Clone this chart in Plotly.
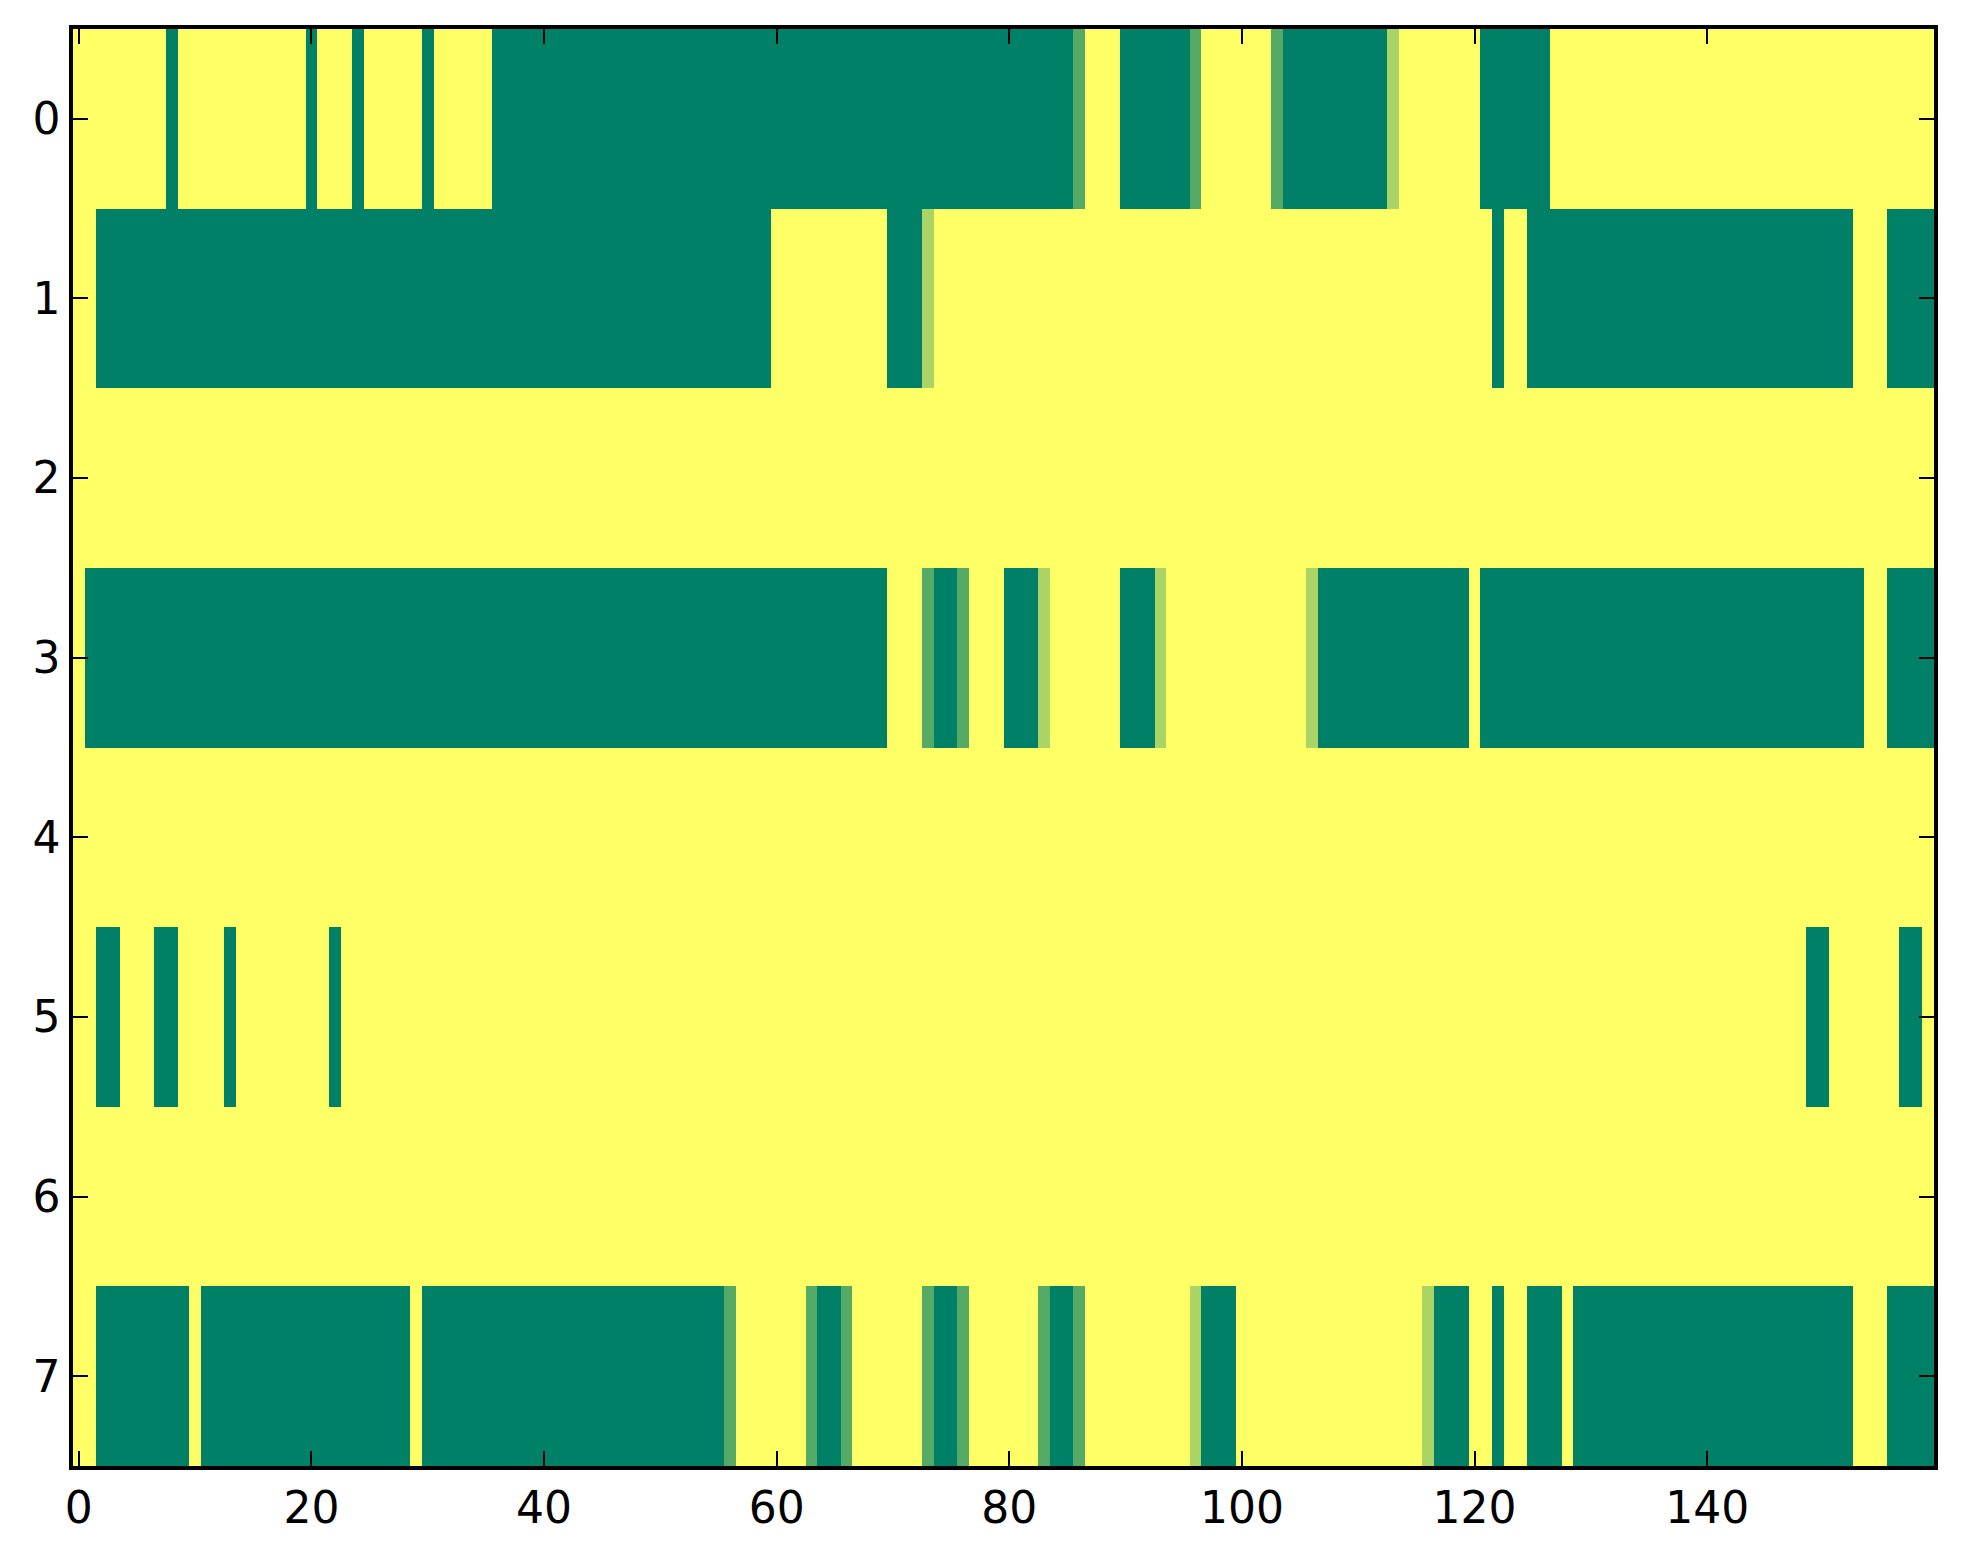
import plotly.graph_objects as go

# Each row: list of (level, run_length); level/3 is the cell value
# (0 = dark green, 3 = yellow, 1 and 2 = intermediate greens)
row0_runs = [(3, 8), (0, 1), (3, 11), (0, 1), (3, 3), (0, 1), (3, 5), (0, 1), (3, 5),
             (0, 50), (1, 1), (3, 3), (0, 6), (1, 1), (3, 6), (1, 1), (0, 9), (2, 1),
             (3, 7), (0, 6), (3, 33)]
row1_runs = [(3, 2), (0, 58), (3, 10), (0, 3), (2, 1), (3, 48), (0, 1), (3, 2), (0, 28),
             (3, 3), (0, 4)]
row2_runs = [(3, 160)]
row3_runs = [(3, 1), (0, 69), (3, 3), (1, 1), (0, 2), (1, 1), (3, 3), (0, 3), (2, 1),
             (3, 6), (0, 3), (2, 1), (3, 12), (2, 1), (0, 13), (3, 1), (0, 33), (3, 2),
             (0, 4)]
row4_runs = [(3, 160)]
row5_runs = [(3, 2), (0, 2), (3, 3), (0, 2), (3, 4), (0, 1), (3, 8), (0, 1), (3, 126),
             (0, 2), (3, 6), (0, 2), (3, 1)]
row6_runs = [(3, 160)]
row7_runs = [(3, 2), (0, 8), (3, 1), (0, 18), (3, 1), (0, 26), (1, 1), (3, 6), (1, 1),
             (0, 2), (1, 1), (3, 6), (1, 1), (0, 2), (1, 1), (3, 6), (1, 1), (0, 2),
             (1, 1), (3, 9), (2, 1), (0, 3), (3, 16), (2, 1), (0, 3), (3, 2), (0, 1),
             (3, 2), (0, 3), (3, 1), (0, 24), (3, 3), (0, 4)]

all_runs = [row0_runs, row1_runs, row2_runs, row3_runs,
            row4_runs, row5_runs, row6_runs, row7_runs]

x_ticks = [0, 20, 40, 60, 80, 100, 120, 140]
y_ticks = [0, 1, 2, 3, 4, 5, 6, 7]


def expand(runs):
    out = []
    for level, n in runs:
        out.extend([level / 3.0] * n)
    assert len(out) == 160, len(out)
    return out


z = [expand(r) for r in all_runs]

fig = go.Figure(
    go.Heatmap(
        z=z,
        x0=0, dx=1, y0=0, dy=1,
        colorscale=[[0.0, "rgb(0,128,102)"], [1.0, "rgb(255,255,102)"]],
        zmin=0, zmax=1,
        showscale=False,
        hoverinfo="skip",
    )
)

axis_common = dict(
    showline=True, linecolor="black", linewidth=3.5, mirror="allticks",
    ticks="inside", ticklen=15, tickwidth=1.5, tickcolor="black",
    showgrid=False, zeroline=False,
    tickfont=dict(family="DejaVu Sans", size=44, color="black"),
)

fig.update_xaxes(range=[-0.5, 159.5], tickvals=x_ticks,
                 ticktext=[str(v) for v in x_ticks], **axis_common)
fig.update_yaxes(range=[7.5, -0.5], tickvals=y_ticks,
                 ticktext=[str(v) for v in y_ticks], **axis_common)

fig.update_layout(
    width=1963, height=1564,
    margin=dict(l=65, r=37, t=21, b=106),
    paper_bgcolor="white", plot_bgcolor="white",
    font=dict(family="DejaVu Sans", color="black"),
)

fig.write_html("out.html")
